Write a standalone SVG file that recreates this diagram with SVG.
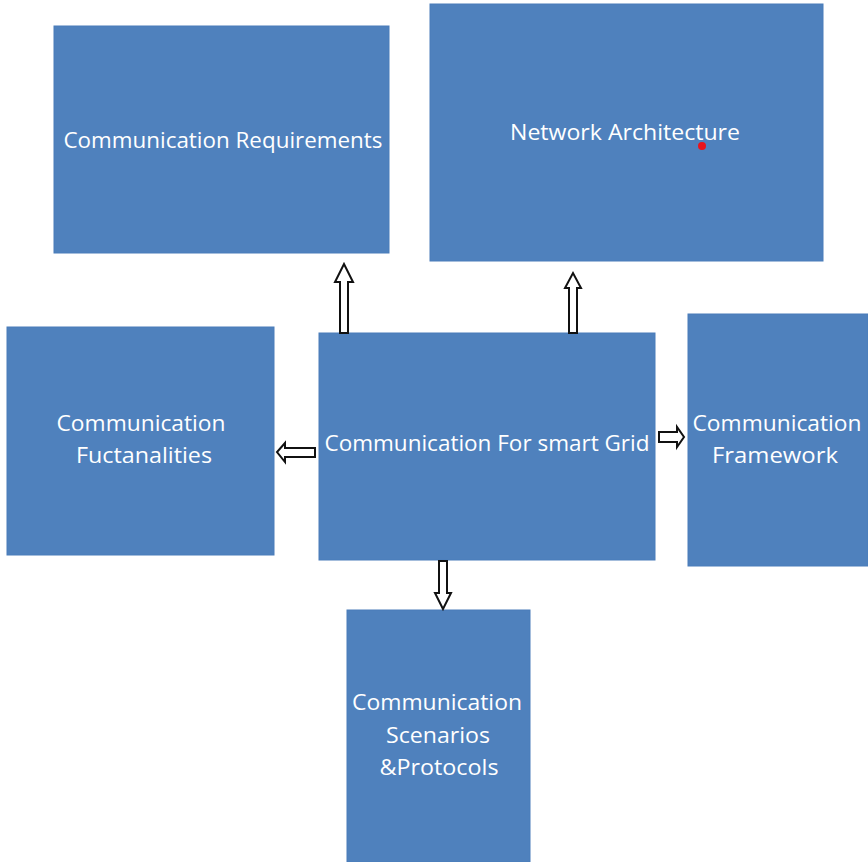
<svg xmlns="http://www.w3.org/2000/svg" width="868" height="862" viewBox="0 0 868 862">
  <style>
    .box { fill: #4f81bd; stroke: #4a7dba; stroke-width: 1; }
    .lbl { fill: #ffffff; font-family: "Open Sans", "Liberation Sans", sans-serif; font-size: 21px; text-anchor: middle; }
    .arrow { fill: #ffffff; stroke: #111111; stroke-width: 2; stroke-linejoin: miter; }
  </style>
  <rect width="868" height="862" fill="#ffffff"/>

  <g id="requirements">
    <rect class="box" x="54" y="26" width="335" height="227"/>
    <text class="lbl" x="223" y="148" textLength="319" lengthAdjust="spacingAndGlyphs">Communication Requirements</text>
  </g>

  <g id="architecture">
    <rect class="box" x="430" y="4" width="393" height="257"/>
    <text class="lbl" x="625" y="140" textLength="230" lengthAdjust="spacingAndGlyphs">Network Architecture</text>
    <circle cx="702" cy="146" r="4" fill="#e8141c"/>
  </g>

  <g id="functionalities">
    <rect class="box" x="7" y="327" width="267" height="228"/>
    <text class="lbl" x="141" y="431" textLength="169" lengthAdjust="spacingAndGlyphs">Communication</text>
    <text class="lbl" x="144" y="463" textLength="136" lengthAdjust="spacingAndGlyphs">Fuctanalities</text>
  </g>

  <g id="center">
    <rect class="box" x="319" y="333" width="336" height="227"/>
    <text class="lbl" x="487" y="451" textLength="325" lengthAdjust="spacingAndGlyphs">Communication For smart Grid</text>
  </g>

  <g id="framework">
    <rect class="box" x="688" y="314" width="180" height="252"/>
    <text class="lbl" x="777" y="431" textLength="169" lengthAdjust="spacingAndGlyphs">Communication</text>
    <text class="lbl" x="775" y="463" textLength="126" lengthAdjust="spacingAndGlyphs">Framework</text>
  </g>

  <g id="scenarios">
    <rect class="box" x="347" y="610" width="183" height="252"/>
    <text class="lbl" x="437" y="710" textLength="170" lengthAdjust="spacingAndGlyphs">Communication</text>
    <text class="lbl" x="438" y="743" textLength="104" lengthAdjust="spacingAndGlyphs">Scenarios</text>
    <text class="lbl" x="439" y="775" textLength="119" lengthAdjust="spacingAndGlyphs">&amp;Protocols</text>
  </g>

  <g id="connectors">
    <!-- up to requirements -->
    <path class="arrow" d="M340,333 L340,282 L335,282 L344,264 L353,282 L348,282 L348,333 Z"/>
    <!-- up to architecture -->
    <path class="arrow" d="M569,333 L569,288 L565,288 L573,273 L581,288 L577,288 L577,333 Z"/>
    <!-- left to functionalities -->
    <path class="arrow" d="M315,448 L285,448 L285,443 L277,452 L285,462 L285,457 L315,457 Z"/>
    <!-- right to framework -->
    <path class="arrow" d="M659,432 L677,432 L677,427 L684,437 L677,447 L677,442 L659,442 Z"/>
    <!-- down to scenarios -->
    <path class="arrow" d="M439,561 L439,593 L435,593 L443,609 L451,593 L447,593 L447,561 Z"/>
  </g>
</svg>
